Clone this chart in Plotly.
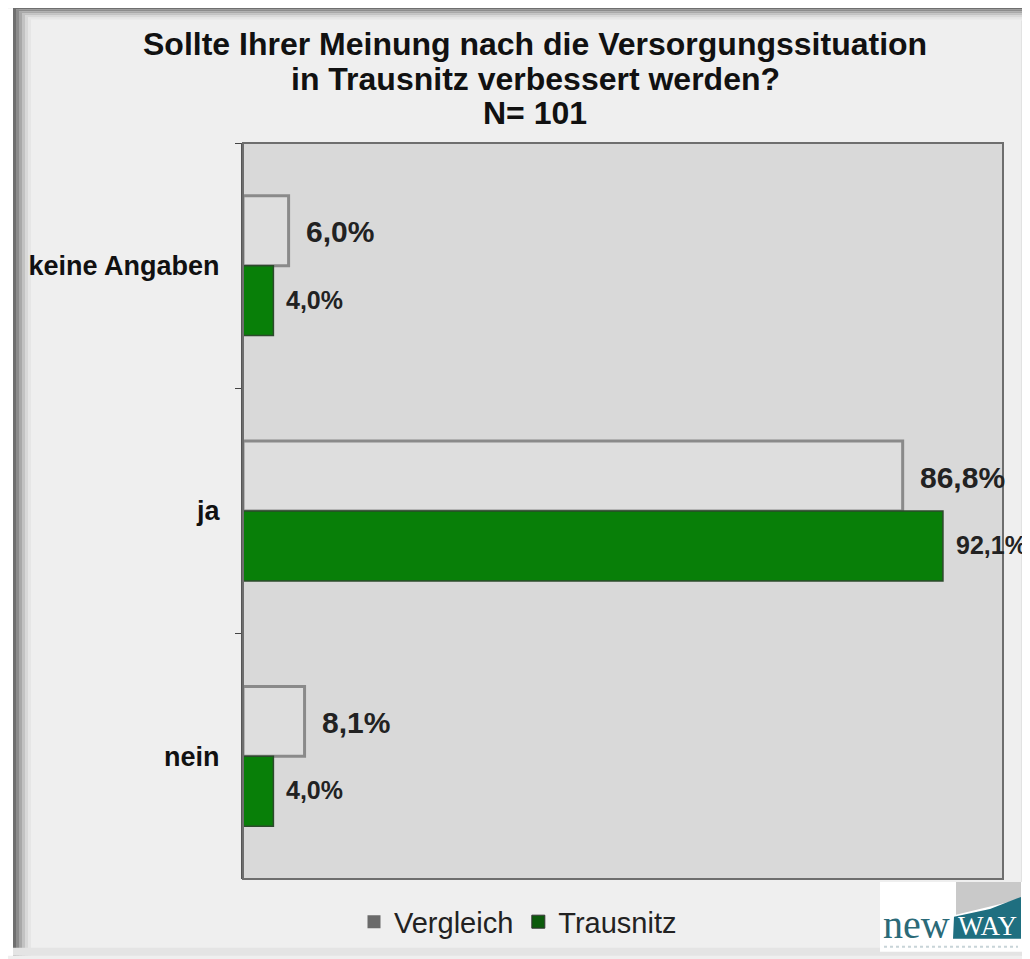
import plotly.graph_objects as go

categories = ["keine Angaben", "ja", "nein"]
vergleich = [6.0, 86.8, 8.1]
trausnitz = [4.0, 92.1, 4.0]
series_names = ["Vergleich", "Trausnitz"]
title_lines = ["Sollte Ihrer Meinung nach die Versorgungssituation",
               "in Trausnitz verbessert werden?", "N= 101"]

# page body margin shifts the figure by 8 px; geometry below is in reference pixels
OFF = 8
W, H = 1030 - OFF, 959 - OFF
L, R, T, B = 243 - OFF, 1030 - 1003, 143 - OFF, 959 - 882
PW, PH = W - L - R, H - T - B


def px(xr):
    return (xr - OFF - L) / PW


def py(yr):
    return (H - B - (yr - OFF)) / PH


def fmt(v):
    return f"{v:.1f}%".replace(".", ",")


FONT = "Liberation Sans, Arial, sans-serif"

fig = go.Figure()
fig.add_trace(go.Bar(
    y=categories, x=vergleich, orientation="h", name=series_names[0], showlegend=False,
    marker=dict(color="#dedede", line=dict(color="#8a8a8a", width=3)),
))
fig.add_trace(go.Bar(
    y=categories, x=trausnitz, orientation="h", name=series_names[1], showlegend=False,
    marker=dict(color="#087f08", line=dict(color="#2c4a2c", width=1.5)),
))
# legend entries
fig.add_trace(go.Scatter(x=[None], y=[None], mode="markers", name=series_names[0],
                         marker=dict(symbol="square", size=13, color="#6a6a6a")))
fig.add_trace(go.Scatter(x=[None], y=[None], mode="markers", name=series_names[1],
                         marker=dict(symbol="square", size=13, color="#0b5a0b",
                                     line=dict(color="#333333", width=1))))

annotations = []
for c, v in zip(categories, vergleich):
    annotations.append(dict(x=v, y=c, text="<b>" + fmt(v) + "</b>", xref="x", yref="y",
                            showarrow=False, xanchor="left", yanchor="middle",
                            xshift=15, yshift=34,
                            font=dict(family=FONT, size=30, color="#222222")))
for c, v in zip(categories, trausnitz):
    annotations.append(dict(x=v, y=c, text="<b>" + fmt(v) + "</b>", xref="x", yref="y",
                            showarrow=False, xanchor="left", yanchor="middle",
                            xshift=11, yshift=-34,
                            font=dict(family=FONT, size=25, color="#222222")))

for line, yc in zip(title_lines, [44, 79, 113]):
    annotations.append(dict(x=px(535), y=py(yc), xref="paper", yref="paper", xanchor="center",
                            yanchor="middle", showarrow=False, text="<b>" + line + "</b>",
                            font=dict(family=FONT, size=32, color="#111111")))

annotations.append(dict(x=px(916), y=py(928), xref="paper", yref="paper", showarrow=False,
                        xanchor="center", yanchor="middle",
                        text="new", font=dict(family="Liberation Serif, DejaVu Serif", size=40,
                                              color="#2b6a78")))
annotations.append(dict(x=px(987), y=py(929), xref="paper", yref="paper", showarrow=False,
                        xanchor="center", yanchor="middle",
                        text="WAY", font=dict(family="Liberation Serif, DejaVu Serif", size=27,
                                              color="#ffffff")))

shapes = []
# outer frame shadow (left / top)
for i, col in enumerate(["#6f6f6f", "#8c8c8c", "#a8a8a8", "#c2c2c2", "#d8d8d8", "#e6e6e6"]):
    shapes.append(dict(type="rect", xref="paper", yref="paper",
                       x0=px(13 + 3 * i), x1=px(16 + 3 * i), y0=py(959), y1=py(7 + 2 * i),
                       fillcolor=col, line=dict(width=0), layer="below"))
    shapes.append(dict(type="rect", xref="paper", yref="paper",
                       x0=px(13 + 3 * i), x1=px(1030), y0=py(9 + 2 * i), y1=py(7 + 2 * i),
                       fillcolor=col, line=dict(width=0), layer="below"))
shapes.append(dict(type="rect", xref="paper", yref="paper", x0=px(8), x1=px(13),
                   y0=py(959), y1=py(8), fillcolor="#ffffff", line=dict(width=0), layer="below"))
shapes.append(dict(type="rect", xref="paper", yref="paper", x0=px(1021), x1=px(1030),
                   y0=py(959), y1=py(20), fillcolor="#e2e2e2", line=dict(width=0),
                   layer="below"))
shapes.append(dict(type="rect", xref="paper", yref="paper", x0=px(13), x1=px(1030),
                   y0=py(959), y1=py(951), fillcolor="#e4e4e4", line=dict(width=0),
                   layer="below"))
# plot-area frame
shapes.append(dict(type="rect", xref="paper", yref="paper", x0=0, x1=1, y0=0, y1=1,
                   line=dict(color="#6e6e6e", width=2), layer="above"))
# logo
shapes += [
    dict(type="rect", xref="paper", yref="paper", x0=px(880), x1=px(1022),
         y0=py(955), y1=py(885), fillcolor="#ffffff", line=dict(width=0)),
    dict(type="path", xref="paper", yref="paper",
         path=f"M {px(956)},{py(885)} L {px(1021)},{py(885)} L {px(1021)},{py(902)} "
              f"L {px(956)},{py(918)} Z",
         fillcolor="#c9c9c9", line=dict(width=0)),
    dict(type="path", xref="paper", yref="paper",
         path=f"M {px(953)},{py(942)} L {px(1021)},{py(942)} L {px(1021)},{py(900)} "
              f"L {px(990)},{py(912)} L {px(954)},{py(920)} Z",
         fillcolor="#1f6f80", line=dict(width=0)),
    dict(type="line", xref="paper", yref="paper", x0=px(884), x1=px(1018),
         y0=py(950), y1=py(950), line=dict(color="#c8d4d8", width=2, dash="dot")),
]

fig.update_layout(
    width=W, height=H,
    margin=dict(l=L, r=R, t=T, b=B),
    paper_bgcolor="#efefef",
    plot_bgcolor="#d9d9d9",
    barmode="group", bargap=0.43, bargroupgap=0.0,
    annotations=annotations,
    shapes=shapes,
    legend=dict(orientation="h", x=px(518), xref="paper", y=py(925), yanchor="middle",
                xanchor="center", font=dict(family=FONT, size=29, color="#222222"),
                bgcolor="rgba(0,0,0,0)", itemwidth=30),
    xaxis=dict(range=[0, 100], showticklabels=False, showgrid=False, zeroline=False,
               showline=False, ticks=""),
    yaxis=dict(categoryorder="array", categoryarray=categories, autorange="reversed",
               tickson="boundaries", ticks="outside", ticklen=6, tickcolor="#444444",
               showline=True, linecolor="#555555", linewidth=2, showgrid=False,
               ticklabelstandoff=16,
               tickfont=dict(family=FONT, size=27, color="#111111", weight="bold")),
)

fig.write_html("out.html")
